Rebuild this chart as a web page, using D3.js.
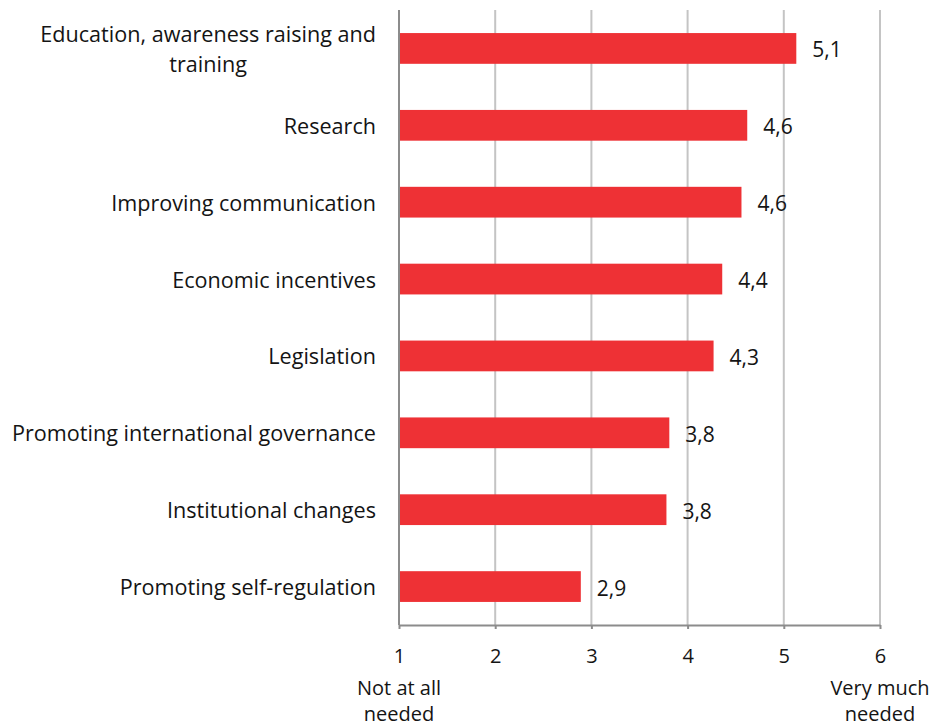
<!DOCTYPE html>
<html>
<head>
<meta charset="utf-8">
<script src="https://cdn.jsdelivr.net/npm/d3@7"></script>
<style>
  body { margin: 0; background: #fff; }
  text { font-family: "Open Sans", sans-serif; fill: #141414; }
  .axis .domain { stroke: #8c8c8c; stroke-width: 2; }
  .axis .tick line { stroke: #8c8c8c; stroke-width: 2; }
  .axis .tick text { font-size: 20px; fill: #141414; font-family: "Open Sans", sans-serif; }
</style>
</head>
<body>
<div id="chart"></div>
<script>
// categories, top to bottom
var categories = [
  "Education, awareness raising and training",
  "Research",
  "Improving communication",
  "Economic incentives",
  "Legislation",
  "Promoting international governance",
  "Institutional changes",
  "Promoting self-regulation"
];
var values = [5.13, 4.62, 4.56, 4.36, 4.27, 3.81, 3.78, 2.89];
var valueLabels = ["5,1", "4,6", "4,6", "4,4", "4,3", "3,8", "3,8", "2,9"];
var tickValues = [1, 2, 3, 4, 5, 6];
var endLabels = [
  { value: 1, lines: ["Not at all", "needed"] },
  { value: 6, lines: ["Very much", "needed"] }
];

var width = 936, height = 728;
var margin = { top: 10, right: 56, bottom: 103, left: 399 };

var svg = d3.select("#chart")
  .append("svg")
  .attr("width", width)
  .attr("height", height);

var xScale = d3.scaleLinear()
  .domain([1, 6])
  .range([margin.left, width - margin.right]);

var yScale = d3.scaleBand()
  .domain(categories)
  .range([margin.top, height - margin.bottom])
  .paddingInner(0.6)
  .paddingOuter(0.3);

var bottomY = height - margin.bottom;

// vertical gridlines
svg.append("g")
  .selectAll("line")
  .data(tickValues.slice(1))
  .enter()
  .append("line")
  .attr("x1", function(d) { return xScale(d); })
  .attr("x2", function(d) { return xScale(d); })
  .attr("y1", margin.top)
  .attr("y2", bottomY)
  .attr("stroke", "#c4c4c4")
  .attr("stroke-width", 2);

// bars
svg.append("g")
  .selectAll("rect")
  .data(values)
  .enter()
  .append("rect")
  .attr("x", xScale(1))
  .attr("y", function(d, i) { return yScale(categories[i]); })
  .attr("width", function(d) { return xScale(d) - xScale(1); })
  .attr("height", yScale.bandwidth())
  .attr("fill", "#ee3135");

// value labels
svg.append("g")
  .selectAll("text")
  .data(values)
  .enter()
  .append("text")
  .attr("x", function(d) { return xScale(d) + 16; })
  .attr("y", function(d, i) { return yScale(categories[i]) + yScale.bandwidth() / 2 + 9; })
  .style("font-size", "21px")
  .text(function(d, i) { return valueLabels[i]; });

// bottom axis
svg.append("g")
  .attr("class", "axis")
  .attr("transform", "translate(0," + bottomY + ")")
  .call(d3.axisBottom(xScale).tickValues(tickValues).tickFormat(d3.format("d"))
    .tickSize(4).tickSizeOuter(0).tickPadding(20));

// left axis line
svg.append("line")
  .attr("x1", xScale(1))
  .attr("x2", xScale(1))
  .attr("y1", margin.top)
  .attr("y2", bottomY)
  .attr("stroke", "#8c8c8c")
  .attr("stroke-width", 2);

// category labels (wrapped when too long)
var labelRight = xScale(1) - 23;
var maxLabelWidth = 370;
var lineGap = 30;

categories.forEach(function(cat) {
  var cy = yScale(cat) + yScale.bandwidth() / 2;
  var t = svg.append("text").style("font-size", "21.6px");
  // wrap words
  var words = cat.split(" ");
  var lines = [];
  var current = [];
  words.forEach(function(w) {
    current.push(w);
    t.text(current.join(" "));
    if (t.node().getComputedTextLength() > maxLabelWidth && current.length > 1) {
      current.pop();
      lines.push(current.join(" "));
      current = [w];
    }
  });
  lines.push(current.join(" "));
  t.text(null);

  var widths = lines.map(function(l) {
    t.text(l);
    return t.node().getComputedTextLength();
  });
  t.text(null);
  var maxW = d3.max(widths);
  var firstBaseline = cy + 8.5 - (lines.length - 1) * lineGap / 2;

  t.attr("text-anchor", "middle");
  lines.forEach(function(l, i) {
    t.append("tspan")
      .attr("x", labelRight - maxW / 2)
      .attr("y", firstBaseline + i * lineGap)
      .text(l);
  });
});

// end labels under the axis
endLabels.forEach(function(e) {
  var t = svg.append("text")
    .attr("text-anchor", "middle")
    .style("font-size", "20px");
  e.lines.forEach(function(l, i) {
    t.append("tspan")
      .attr("x", xScale(e.value))
      .attr("y", 695 + i * 26)
      .text(l);
  });
});
</script>
</body>
</html>
